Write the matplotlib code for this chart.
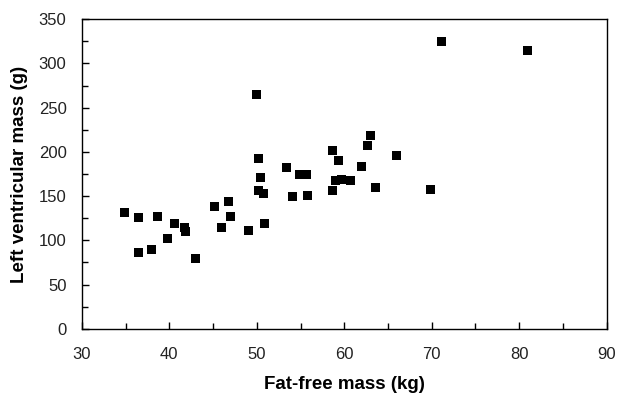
import numpy as np
import matplotlib
matplotlib.use("Agg")
import matplotlib.pyplot as plt
from matplotlib.ticker import MultipleLocator

plt.rcParams['font.family'] = ['Liberation Sans', 'DejaVu Sans']

# Fat-free mass (kg) and left ventricular mass (g)
fat_free_mass = [34.9, 36.5, 38.7, 40.6, 41.7, 41.9, 39.8, 38.0, 36.5, 43.0,
                 45.2, 46.8, 47.0, 46.0, 50.2, 50.4, 50.2, 50.8, 50.9, 49.0,
                 53.4, 54.9, 55.7, 54.1, 55.8, 58.6, 59.3, 59.0, 59.7, 60.7,
                 58.7, 62.7, 66.0, 62.0, 63.6, 69.9, 63.0, 71.1, 81.0, 50.0]
lv_mass = [131, 126, 127, 119, 115, 110, 102, 90, 86, 79,
           138, 144, 127, 114, 193, 171, 156, 153, 119, 111,
           182, 174, 174, 149, 151, 202, 190, 168, 169, 168,
           156, 207, 196, 183, 160, 158, 219, 325, 315, 265]

fig = plt.figure(figsize=(6.17, 3.97), dpi=100)
ax = fig.add_axes([0.1326, 0.172, 0.8507, 0.7794])

ax.scatter(fat_free_mass, lv_mass, marker='s', s=42, color='black',
           edgecolors='none', zorder=3)

ax.set_xlim(30, 90)
ax.set_ylim(0, 350)
ax.xaxis.set_major_locator(MultipleLocator(10))
ax.xaxis.set_minor_locator(MultipleLocator(5))
ax.yaxis.set_major_locator(MultipleLocator(50))
ax.yaxis.set_minor_locator(MultipleLocator(25))
ax.tick_params(which='both', direction='in', top=False, right=False,
               labelsize=12, width=1, labelcolor='#222222')
ax.tick_params(which='major', length=5)
ax.tick_params(which='minor', length=4)
ax.tick_params(axis='y', pad=11)
ax.tick_params(axis='x', pad=13.5)
for sp in ax.spines.values():
    sp.set_linewidth(1)

ax.set_xlabel("Fat-free mass (kg)", fontsize=13.5, fontweight='bold', labelpad=10)
ax.set_ylabel("Left ventricular mass (g)", fontsize=13.5, fontweight='bold', labelpad=8)

fig.savefig("out.png", dpi=100)
